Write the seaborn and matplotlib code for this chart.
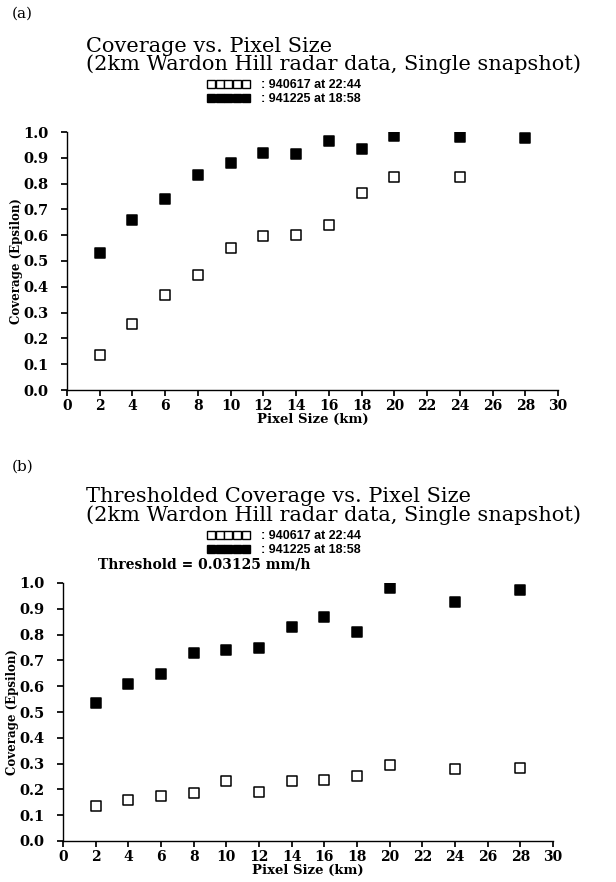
import matplotlib
matplotlib.use("Agg")
import matplotlib.pyplot as plt
from matplotlib.lines import Line2D
import seaborn as sns
import pandas as pd

# ---------------- data ----------------
pixel_open_a = [2, 4, 6, 8, 10, 12, 14, 16, 18, 20, 24]
cov_open_a = [0.136, 0.254, 0.367, 0.447, 0.549, 0.598, 0.601, 0.640, 0.763, 0.825, 0.826]
pixel_fill_a = [2, 4, 6, 8, 10, 12, 14, 16, 18, 20, 24, 28]
cov_fill_a = [0.532, 0.658, 0.740, 0.834, 0.881, 0.918, 0.914, 0.966, 0.934, 0.983, 0.979, 0.975]

pixel_open_b = [2, 4, 6, 8, 10, 12, 14, 16, 18, 20, 24, 28]
cov_open_b = [0.135, 0.157, 0.173, 0.187, 0.234, 0.188, 0.231, 0.236, 0.252, 0.294, 0.279, 0.283]
pixel_fill_b = [2, 4, 6, 8, 10, 12, 14, 16, 18, 20, 24, 28]
cov_fill_b = [0.533, 0.608, 0.646, 0.728, 0.739, 0.748, 0.830, 0.868, 0.812, 0.982, 0.928, 0.974]

series_labels = [": 940617 at 22:44", ": 941225 at 18:58"]
x_ticks = list(range(0, 31, 2))
y_ticks = [0.0, 0.1, 0.2, 0.3, 0.4, 0.5, 0.6, 0.7, 0.8, 0.9, 1.0]
title_line1 = ["Coverage vs. Pixel Size", "Thresholded Coverage vs. Pixel Size"]
title_line2 = "(2km Wardon Hill radar data, Single snapshot)"
panel_tags = ["(a)", "(b)"]
threshold_text = "Threshold = 0.03125 mm/h"
xlabel = "Pixel Size (km)"
ylabel = "Coverage (Epsilon)"

# ---------------- style ----------------
sns.set_theme(style="ticks")
plt.rcParams["font.family"] = ["DejaVu Serif"]
plt.rcParams["text.color"] = "black"
plt.rcParams["axes.labelcolor"] = "black"
plt.rcParams["axes.edgecolor"] = "black"
plt.rcParams["axes.linewidth"] = 1.0
plt.rcParams["xtick.major.size"] = 4.5
plt.rcParams["ytick.major.size"] = 4.5
plt.rcParams["xtick.direction"] = "out"
plt.rcParams["ytick.direction"] = "out"
plt.rcParams["xtick.color"] = "black"
plt.rcParams["ytick.color"] = "black"

fig = plt.figure(figsize=(6.16, 8.82), dpi=100)
W, H = 616.0, 882.0

def fx(px):
    return px / W

def fy(py):
    return 1 - py / H

axes_px = [  # left, right, top, bottom in pixels
    (67, 558, 132, 390),
    (63, 553, 583, 841),
]
panels = [
    (pixel_open_a, cov_open_a, pixel_fill_a, cov_fill_a),
    (pixel_open_b, cov_open_b, pixel_fill_b, cov_fill_b),
]
title_y = [44, 495]
legend_y = [79, 530]
tag_y = [14, 467]

ms = 6.5
for i, (xo, yo, xf, yf) in enumerate(panels):
    l, r, t, b = axes_px[i]
    ax = fig.add_axes([fx(l), fy(b), fx(r - l), (b - t) / H])
    df_o = pd.DataFrame({"x": xo, "y": yo})
    df_f = pd.DataFrame({"x": xf, "y": yf})
    sns.scatterplot(data=df_o, x="x", y="y", ax=ax, marker="s", s=ms ** 2,
                    facecolor="white", edgecolor="black", linewidth=1.1, zorder=3)
    sns.scatterplot(data=df_f, x="x", y="y", ax=ax, marker="s", s=ms ** 2,
                    facecolor="black", edgecolor="black", linewidth=1.1, zorder=3)
    ax.set_xlim(0, 30)
    ax.set_ylim(0, 1.0)
    ax.set_xticks(x_ticks)
    ax.set_yticks(y_ticks)
    ax.set_xticklabels([str(v) for v in x_ticks], fontsize=10, fontweight="bold")
    ax.set_yticklabels([f"{v:.1f}" for v in y_ticks], fontsize=10.5, fontweight="bold")
    ax.tick_params(axis="x", pad=2)
    ax.tick_params(axis="y", pad=9)
    sns.despine(ax=ax)
    ax.set_xlabel(xlabel, fontsize=9.5, fontweight="bold", labelpad=0)
    ax.set_ylabel(ylabel, fontsize=8.5, fontweight="bold", labelpad=0)
    ax.margins(0)

    # panel tag
    fig.text(fx(12), fy(tag_y[i]), panel_tags[i], fontsize=11, ha="left", va="center")
    # title (two lines)
    fig.text(fx(86), fy(title_y[i]), title_line1[i], fontsize=15, ha="left",
             va="center_baseline")
    fig.text(fx(86), fy(title_y[i] + 18), title_line2, fontsize=15, ha="left",
             va="center_baseline")
    # legend
    handles = [
        Line2D([], [], marker="s", linestyle="none", markerfacecolor="white",
               markeredgecolor="black", markersize=6, markeredgewidth=1.0),
        Line2D([], [], marker="s", linestyle="none", markerfacecolor="black",
               markeredgecolor="black", markersize=6, markeredgewidth=1.0),
    ]
    leg = fig.legend(handles, series_labels, loc="upper left",
                     bbox_to_anchor=(fx(207), fy(legend_y[i])),
                     numpoints=5, handlelength=3.42, handletextpad=0.9,
                     labelspacing=0.15, borderpad=0, borderaxespad=0,
                     frameon=False, labelcolor="black",
                     prop={"family": ["Liberation Sans", "DejaVu Sans"],
                           "weight": "bold", "size": 9})

fig.text(fx(98), fy(565), threshold_text, fontsize=10, fontweight="bold",
         ha="left", va="center")

fig.savefig("out.png", dpi=100)
